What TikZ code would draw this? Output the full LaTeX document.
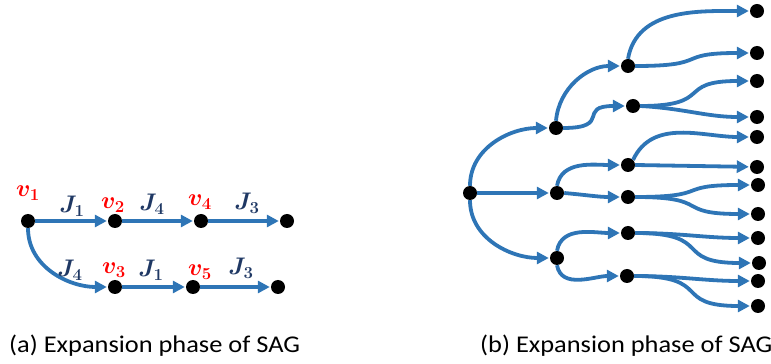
\RequirePackage{fix-cm}
\documentclass[tikz,border=0pt]{standalone}
\usepackage{fontspec}
\setmainfont{Carlito}
\usetikzlibrary{arrows.meta}
\definecolor{eblue}{HTML}{2E75B6}
\definecolor{jblue}{HTML}{1F3864}
\begin{document}
\begin{tikzpicture}[x=1pt,y=1pt,
  dot/.style={circle,fill=black,inner sep=0pt,minimum size=14pt},
  edge/.style={draw=eblue,line width=3.8pt,-{Triangle[length=12pt,width=12pt]},shorten >=1pt},
  sbend/.style={out=0,in=180,looseness=1.7},
  vlab/.style={text=red,anchor=base,inner sep=0pt,font=\fontsize{24}{28}\selectfont\boldmath},
  jlab/.style={text=jblue,anchor=base,inner sep=0pt,font=\fontsize{24}{28}\selectfont\boldmath},
  captext/.style={anchor=base west,inner sep=0pt,xscale=1.1,transform shape,font=\fontsize{24}{29}\selectfont}]
\useasboundingbox (0,0) rectangle (771,364);
% ---------- (a) ----------
\node[dot] (v1) at (28,143) {};
\node[dot] (v2) at (115,143) {};
\node[dot] (v4) at (201,143) {};
\node[dot] (e1) at (287,143) {};
\node[dot] (v3) at (115,77) {};
\node[dot] (v5) at (193,77) {};
\node[dot] (e2) at (278,77) {};
\draw[edge] (v1) -- (v2);
\draw[edge] (v2) -- (v4);
\draw[edge] (v4) -- (e1);
\draw[edge] (v1.south) to[out=-90,in=180] (v3);
\draw[edge] (v3) -- (v5);
\draw[edge] (v5) -- (e2);
\node[vlab] (lv1) at (28,167) {$v_1$};
\node[vlab] (lv2) at (113,155) {$v_2$};
\node[vlab] (lv4) at (200,158) {$v_4$};
\node[jlab] (lj1) at (72,151) {$J_1$};
\node[jlab] (lj4) at (152,153) {$J_4$};
\node[jlab] (lj3) at (247,154) {$J_3$};
\node[jlab] (lj4b) at (70,87) {$J_4$};
\node[vlab] (lv3) at (114,90) {$v_3$};
\node[jlab] (lj1b) at (151,87) {$J_1$};
\node[vlab] (lv5) at (200,88) {$v_5$};
\node[jlab] (lj3b) at (241,89) {$J_3$};
% ---------- (b) ----------
\node[dot] (R) at (470,171) {};
\node[dot] (A) at (556,236) {};
\node[dot] (B) at (557,171) {};
\node[dot] (C) at (557,106) {};
\node[dot] (A1) at (628,298) {};
\node[dot] (A2) at (633,258) {};
\node[dot] (B1) at (628,199) {};
\node[dot] (B2) at (628,167) {};
\node[dot] (C1) at (628,131) {};
\node[dot] (C2) at (627,88) {};
\node[dot] (L1) at (757,353) {};
\node[dot] (L2) at (757,311) {};
\node[dot] (L3) at (757,283) {};
\node[dot] (L4) at (757,247) {};
\node[dot] (L5) at (757,227) {};
\node[dot] (L6) at (757,197) {};
\node[dot] (L7) at (758,179) {};
\node[dot] (L8) at (758,150) {};
\node[dot] (L9) at (758,126) {};
\node[dot] (L10) at (759,101) {};
\node[dot] (L11) at (758,83) {};
\node[dot] (L12) at (758,58) {};
\draw[edge] (R.north) to[out=90,in=180] (A);
\draw[edge] (R) -- (B);
\draw[edge] (R.south) to[out=-90,in=180] (C);
\draw[edge] (A.north) to[out=85,in=180] (A1);
\draw[edge] (A.east) to[sbend,looseness=1.9] (A2);
\draw[edge] (B.north) to[out=80,in=180] (B1);
\draw[edge] (B.east) to[out=-5,in=180] (B2);
\draw[edge] (C.north) to[out=80,in=180] (C1);
\draw[edge] (C.south) to[out=-80,in=180] (C2);
\draw[edge] (A1.north) to[out=80,in=180] (L1);
\draw[edge] (A1.east) to[sbend] (L2);
\draw[edge] (A2.east) to[sbend] (L3);
\draw[edge] (A2.east) to[out=-3,in=180] (L4);
\draw[edge] (B1.north east) to[out=65,in=180] (L5);
\draw[edge] (B1.east) -- (L6);
\draw[edge] (B2.east) to[sbend] (L7);
\draw[edge] (B2.east) to[sbend] (L8);
\draw[edge] (C1.east) to[out=0,in=180] (L9);
\draw[edge] (C1.east) to[sbend] (L10);
\draw[edge] (C2.east) to[out=0,in=180] (L11);
\draw[edge] (C2.east) to[sbend] (L12);
% ---------- captions ----------
\node[captext] (capa) at (9,11) {(a) Expansion phase of SAG};
\node[captext] (capb) at (480,11) {(b) Expansion phase of SAG};
\end{tikzpicture}
\end{document}
